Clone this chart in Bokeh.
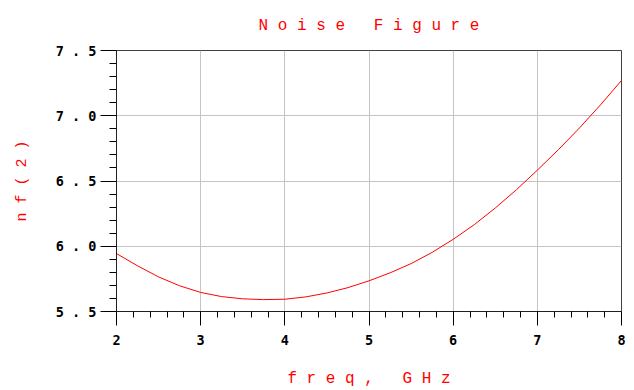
import numpy as np
from bokeh.plotting import figure
from bokeh.models import FixedTicker, Range1d
from bokeh.embed import file_html
from bokeh.resources import INLINE

# ---- data ----
freq = [2.0, 2.25, 2.5, 2.75, 3.0, 3.25, 3.5, 3.75, 4.0, 4.25, 4.5, 4.75, 5.0,
        5.25, 5.5, 5.75, 6.0, 6.25, 6.5, 6.75, 7.0, 7.25, 7.5, 7.75, 8.0]
nf2 = [5.944, 5.850, 5.765, 5.697, 5.646, 5.614, 5.597, 5.591, 5.594, 5.612,
       5.642, 5.683, 5.735, 5.796, 5.867, 5.953, 6.053, 6.165, 6.293, 6.432,
       6.583, 6.740, 6.906, 7.083, 7.270]

x_ticks = [2, 3, 4, 5, 6, 7, 8]
x_tick_labels = ["2", "3", "4", "5", "6", "7", "8"]
y_ticks = [5.5, 6.0, 6.5, 7.0, 7.5]
y_tick_labels = ["5 . 5", "6 . 0", "6 . 5", "7 . 0", "7 . 5"]

NB = "\u00a0"
title_text = "N o i s e   F i g u r e".replace(" ", NB)
x_label = "f r e q ,   G H z".replace(" ", NB)
y_label = "n f ( 2 )".replace(" ", NB)

RED = "#ff0000"

p = figure(width=634, height=390, output_backend="svg", toolbar_location=None,
           x_range=Range1d(x_ticks[0], x_ticks[-1]),
           y_range=Range1d(y_ticks[0], y_ticks[-1]),
           min_border_left=116, min_border_right=13, min_border_top=50,
           min_border_bottom=79)

p.line(freq, nf2, line_color=RED, line_width=1)

# title
p.title.text = title_text
p.title.align = "center"
p.title.vertical_align = "top"
p.title.text_font = "Liberation Mono"
p.title.text_font_size = "16px"
p.title.text_font_style = "normal"
p.title.text_color = RED
p.title.standoff = 28

x_minor = [v for v in np.round(np.arange(2, 8.0001, 0.2), 3) if v not in x_ticks]
y_minor = [v for v in np.round(np.arange(5.5, 7.5001, 0.1), 3) if v not in y_ticks]

p.xaxis.ticker = FixedTicker(ticks=x_ticks, minor_ticks=x_minor)
p.yaxis.ticker = FixedTicker(ticks=y_ticks, minor_ticks=y_minor)
p.xaxis.major_label_overrides = dict(zip(x_ticks, x_tick_labels))
p.yaxis.major_label_overrides = dict(zip(y_ticks, y_tick_labels))

for ax in (p.xaxis, p.yaxis):
    ax.axis_line_color = "#202020"
    ax.major_tick_line_color = "#000000"
    ax.minor_tick_line_color = "#000000"
    ax.major_tick_in = 0
    ax.minor_tick_in = 0
    ax.major_label_text_font = "DejaVu Sans Mono"
    ax.major_label_text_font_size = "13.5px"
    ax.major_label_text_font_style = "bold"
    ax.major_label_text_color = "#000000"
    ax.axis_label_text_font = "Liberation Mono"
    ax.axis_label_text_font_style = "normal"
    ax.axis_label_text_color = RED

p.xaxis.major_tick_out = 14
p.xaxis.minor_tick_out = 6
p.xaxis.major_label_standoff = 9
p.xaxis.axis_label = x_label
p.xaxis.axis_label_text_font_size = "16px"
p.xaxis.axis_label_standoff = 22

p.yaxis.major_tick_out = 16
p.yaxis.minor_tick_out = 7
p.yaxis.major_label_standoff = 4
p.yaxis.axis_label = y_label
p.yaxis.axis_label_text_font_size = "15px"
p.yaxis.axis_label_standoff = 22

p.xgrid.grid_line_color = "#c4c4c4"
p.ygrid.grid_line_color = "#c4c4c4"
p.outline_line_color = "#404040"
p.outline_line_width = 1

open("out.html", "w").write(file_html(p, INLINE))
